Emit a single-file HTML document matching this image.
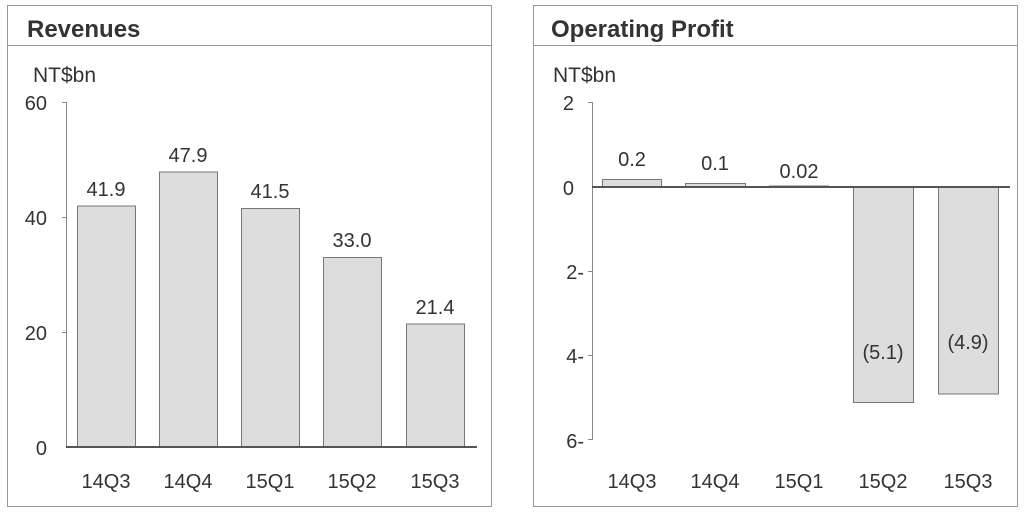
<!DOCTYPE html>
<html><head><meta charset="utf-8"><style>
body{margin:0;background:#fff;}
svg text{font-family:"Liberation Sans",Arial,sans-serif;fill:#333;}
</style></head><body>
<svg width="1024" height="512" xmlns="http://www.w3.org/2000/svg">
<rect width="1024" height="512" fill="#fff"/>
<!-- Left panel -->
<rect x="7.5" y="5.5" width="484" height="501" fill="#fff" stroke="#999" stroke-width="1"/>
<line x1="7" y1="45.5" x2="492" y2="45.5" stroke="#999"/>
<text x="27" y="37" font-size="24" font-weight="bold" fill="#444">Revenues</text>
<text x="33" y="82" font-size="21">NT$bn</text>
<line x1="66.5" y1="102" x2="66.5" y2="447" stroke="#888"/>
<g stroke="#888"><line x1="62" y1="102.5" x2="66" y2="102.5"/><line x1="62" y1="217.5" x2="66" y2="217.5"/><line x1="62" y1="332.5" x2="66" y2="332.5"/></g>
<g font-size="20" text-anchor="end"><text x="47" y="110">60</text><text x="47" y="225">40</text><text x="47" y="340">20</text><text x="47" y="455">0</text></g>
<g fill="#ddd" stroke="#777" stroke-width="1">
<rect x="77.5" y="206" width="58" height="241"/>
<rect x="159.5" y="172" width="58" height="275"/>
<rect x="241.5" y="208.5" width="58" height="238.5"/>
<rect x="323.5" y="257.5" width="58" height="189.5"/>
<rect x="406.5" y="324" width="58" height="123"/>
</g>
<line x1="66" y1="447" x2="477" y2="447" stroke="#555" stroke-width="2"/>
<g font-size="20" text-anchor="middle">
<text x="106" y="196">41.9</text><text x="188" y="162">47.9</text><text x="270" y="198">41.5</text><text x="352" y="247">33.0</text><text x="435" y="314">21.4</text>
<text x="106" y="488">14Q3</text><text x="188" y="488">14Q4</text><text x="270" y="488">15Q1</text><text x="352" y="488">15Q2</text><text x="435" y="488">15Q3</text>
</g>
<!-- Right panel -->
<rect x="533.5" y="5.5" width="484" height="501" fill="#fff" stroke="#999" stroke-width="1"/>
<line x1="533" y1="45.5" x2="1018" y2="45.5" stroke="#999"/>
<text x="551" y="37" font-size="24" font-weight="bold" fill="#444">Operating Profit</text>
<text x="553" y="82" font-size="21">NT$bn</text>
<line x1="592.5" y1="102" x2="592.5" y2="440" stroke="#888"/>
<g stroke="#888"><line x1="588" y1="102.5" x2="592" y2="102.5"/><line x1="588" y1="271.5" x2="592" y2="271.5"/><line x1="588" y1="355.5" x2="592" y2="355.5"/><line x1="588" y1="439.5" x2="592" y2="439.5"/></g>
<g font-size="20" text-anchor="end"><text x="574" y="110">2</text><text x="574" y="195">0</text><text x="584" y="279">2-</text><text x="584" y="363">4-</text><text x="584" y="448">6-</text></g>
<g fill="#ddd" stroke="#777" stroke-width="1">
<rect x="602.5" y="179.5" width="59" height="7.5"/>
<rect x="685.5" y="183.5" width="60" height="3.5"/>
<rect x="769.5" y="186" width="59" height="1"/>
<rect x="853.5" y="187" width="60" height="215.5"/>
<rect x="938.5" y="187" width="60" height="207"/>
</g>
<line x1="592" y1="187" x2="1010" y2="187" stroke="#555" stroke-width="2"/>
<g font-size="20" text-anchor="middle">
<text x="632" y="166">0.2</text><text x="715" y="170">0.1</text><text x="799" y="178">0.02</text>
<text x="883" y="359">(5.1)</text><text x="968" y="349">(4.9)</text>
<text x="632" y="488">14Q3</text><text x="715" y="488">14Q4</text><text x="799" y="488">15Q1</text><text x="883" y="488">15Q2</text><text x="968" y="488">15Q3</text>
</g>
</svg>
</body></html>
